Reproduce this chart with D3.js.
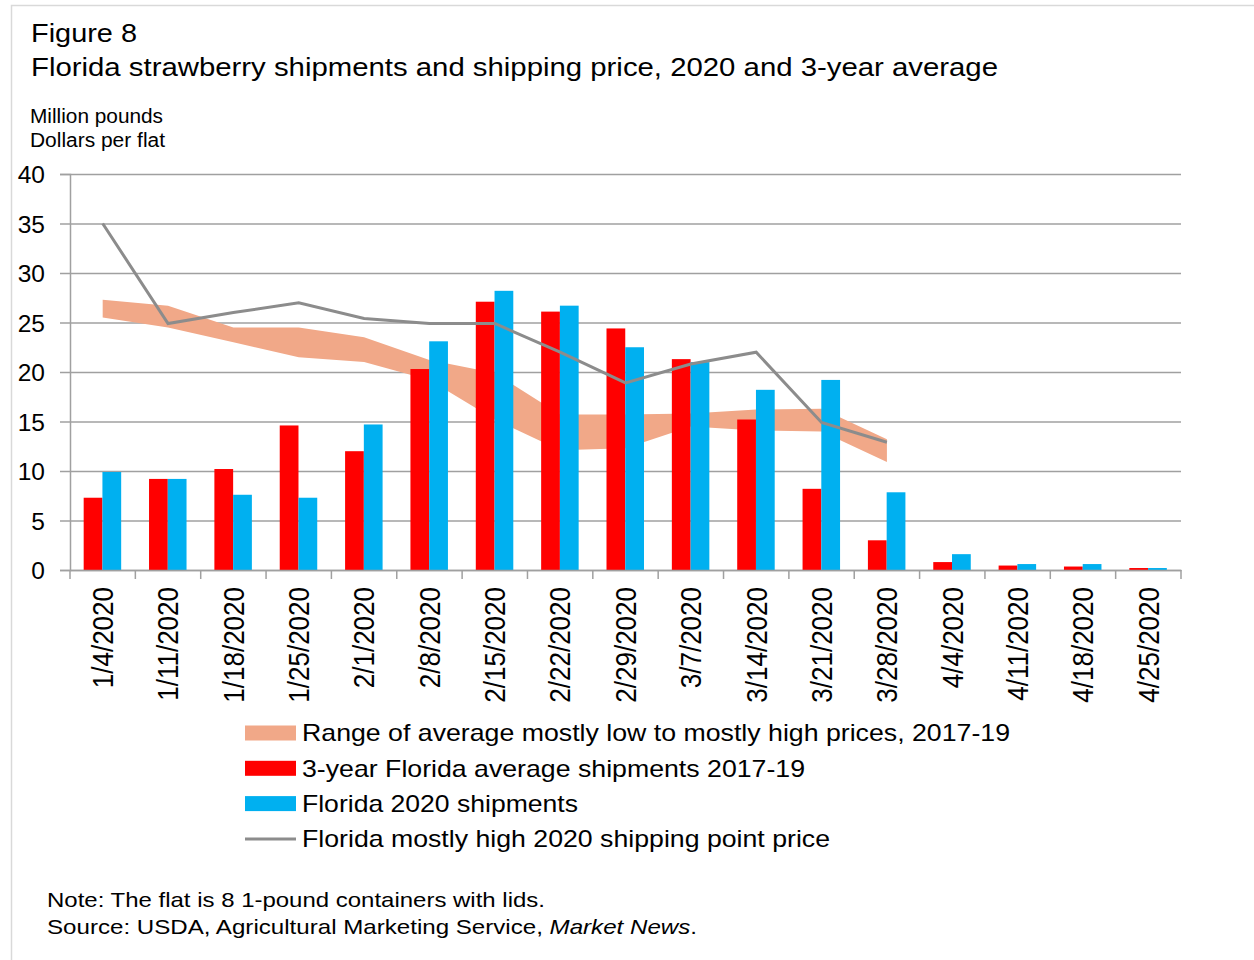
<!DOCTYPE html>
<html>
<head>
<meta charset="utf-8">
<script src="https://cdn.jsdelivr.net/npm/d3@7"></script>
<style>
  body { margin: 0; background: #fff; }
  svg { font-family: "Liberation Sans", Arial, sans-serif; }
</style>
</head>
<body>
<svg width="1254" height="960"></svg>
<script>
// weekly data
const categories = ['1/4/2020', '1/11/2020', '1/18/2020', '1/25/2020', '2/1/2020', '2/8/2020',
  '2/15/2020', '2/22/2020', '2/29/2020', '3/7/2020', '3/14/2020', '3/21/2020', '3/28/2020',
  '4/4/2020', '4/11/2020', '4/18/2020', '4/25/2020'];
const avgShipments = [7.3, 9.2, 10.2, 14.6, 12.0, 20.3, 27.1, 26.1, 24.4, 21.3, 15.2, 8.2, 3.0, 0.8, 0.45, 0.35, 0.2];
const shipments2020 = [9.9, 9.2, 7.6, 7.3, 14.7, 23.1, 28.2, 26.7, 22.5, 21.0, 18.2, 19.2, 7.85, 1.6, 0.6, 0.6, 0.2];
// prices only run through 3/28
const priceHigh2020 = [35, 24.9, 26, 27, 25.4, 24.9, 24.9, 22, 18.9, 20.8, 22, 14.9, 12.9];
const rangeLow = [25.5, 24.5, 23.0, 21.5, 21.0, 19.2, 15.2, 12.1, 12.3, 14.5, 14.1, 14.0, 10.9];
const rangeHigh = [27.3, 26.7, 24.5, 24.5, 23.5, 21.2, 19.9, 15.7, 15.7, 15.8, 16.2, 16.3, 13.2];
const yTicks = [0, 5, 10, 15, 20, 25, 30, 35, 40];

const legendItems = [
  { label: 'Range of average mostly low to mostly high prices, 2017-19', type: 'area', color: '#f1a888', len: 708 },
  { label: '3-year Florida average shipments 2017-19', type: 'bar', color: '#ff0000', len: 503 },
  { label: 'Florida 2020 shipments', type: 'bar', color: '#00b0f0', len: 276 },
  { label: 'Florida mostly high 2020 shipping point price', type: 'line', color: '#8c8c8c', len: 528 }
];

const svg = d3.select('svg');
const plotLeft = 70, plotRight = 1181, plotTop = 174, plotBottom = 570;

// stretched text, the source figure is a bit wider than the font
function label(x, y, size, str, len) {
  return svg.append('text').attr('x', x).attr('y', y).attr('font-size', size)
    .attr('textLength', len).attr('lengthAdjust', 'spacingAndGlyphs').text(str);
}

// light frame
svg.append('path')
  .attr('d', `M11.5,960 V5.5 H1254`)
  .attr('fill', 'none').attr('stroke', '#d9d9d9').attr('stroke-width', 1.5);

// titles
label(31, 42, 25, 'Figure 8', 106);
label(31, 76, 25, 'Florida strawberry shipments and shipping price, 2020 and 3-year average', 967);
label(30, 123, 19.5, 'Million  pounds', 133);
label(30, 147, 19.5, 'Dollars per flat', 135);

const x = d3.scaleBand().domain(categories).range([plotLeft, plotRight]).padding(0);
const bw = x.bandwidth();
const x1 = d3.scaleBand().domain(['avg', 'cur']).range([bw / 2 - 19, bw / 2 + 18.5]).padding(0);
const y = d3.scaleLinear().domain([0, 40]).range([plotBottom, plotTop]);
const cx = i => x(categories[i]) + bw / 2;

// gridlines + y axis
const yAxis = svg.append('g').attr('transform', `translate(${plotLeft},0)`)
  .call(d3.axisLeft(y).tickValues(yTicks).tickSize(10).tickFormat(d3.format('d')));
yAxis.select('.domain').attr('stroke', '#a0a0a0').attr('stroke-width', 1.5);
yAxis.selectAll('.tick line').attr('stroke', '#a0a0a0').attr('stroke-width', 1.5)
  .attr('x1', -10).attr('x2', plotRight - plotLeft);
yAxis.selectAll('.tick text').attr('font-size', 24.5).attr('fill', '#000')
  .attr('x', -25).attr('dy', '0.35em').attr('font-family', '"Liberation Sans", Arial, sans-serif');

// price range band
svg.append('path')
  .datum(rangeLow.map((d, i) => i))
  .attr('fill', '#f1a888')
  .attr('d', d3.area().x(i => cx(i)).y0(i => y(rangeLow[i])).y1(i => y(rangeHigh[i])));

// bars
const groups = svg.append('g').selectAll('g')
  .data(categories)
  .join('g')
  .attr('transform', d => `translate(${x(d)},0)`);
groups.append('rect')
  .attr('x', x1('avg')).attr('width', x1.bandwidth())
  .attr('y', (d, i) => y(avgShipments[i])).attr('height', (d, i) => y(0) - y(avgShipments[i]))
  .attr('fill', '#ff0000');
groups.append('rect')
  .attr('x', x1('cur')).attr('width', x1.bandwidth())
  .attr('y', (d, i) => y(shipments2020[i])).attr('height', (d, i) => y(0) - y(shipments2020[i]))
  .attr('fill', '#00b0f0');

// x axis
const xAxis = svg.append('g').attr('transform', `translate(0,${plotBottom})`)
  .call(d3.axisBottom(x).tickSize(0).tickSizeOuter(0));
xAxis.select('.domain').attr('stroke', '#a0a0a0').attr('stroke-width', 1.5);
xAxis.selectAll('.tick text')
  .attr('font-size', 26).attr('fill', '#000')
  .attr('font-family', '"Liberation Sans", Arial, sans-serif')
  .attr('text-anchor', 'end')
  .attr('transform', 'translate(0,17) rotate(-90) scale(1,1.1)')
  .attr('x', 0).attr('y', 0).attr('dy', '0.36em');
xAxis.append('g').selectAll('line')
  .data(d3.range(categories.length + 1))
  .join('line')
  .attr('x1', i => plotLeft + i * bw).attr('x2', i => plotLeft + i * bw)
  .attr('y1', 0).attr('y2', 9)
  .attr('stroke', '#a0a0a0').attr('stroke-width', 1.5);

// price line
svg.append('path')
  .datum(priceHigh2020)
  .attr('fill', 'none').attr('stroke', '#8c8c8c').attr('stroke-width', 3)
  .attr('d', d3.line().x((d, i) => cx(i)).y(d => y(d)));

// legend
const legend = svg.append('g').selectAll('g')
  .data(legendItems)
  .join('g')
  .attr('transform', (d, i) => `translate(245,${733 + i * 35.3})`);
legend.filter(d => d.type !== 'line').append('rect')
  .attr('x', 0).attr('y', -7.5).attr('width', 51).attr('height', 15)
  .attr('fill', d => d.color);
legend.filter(d => d.type === 'line').append('line')
  .attr('x1', 0).attr('x2', 51).attr('y1', 0).attr('y2', 0)
  .attr('stroke', d => d.color).attr('stroke-width', 3);
legend.append('text')
  .attr('x', 57).attr('dy', '0.35em').attr('font-size', 24)
  .attr('textLength', d => d.len).attr('lengthAdjust', 'spacingAndGlyphs')
  .text(d => d.label);

// notes
label(47, 907, 21, 'Note: The flat is 8 1-pound containers with lids.', 498);
const src = label(47, 934, 21, null, 650);
src.append('tspan').text('Source: USDA, Agricultural Marketing Service, ');
src.append('tspan').attr('font-style', 'italic').text('Market News');
src.append('tspan').text('.');
</script>
</body>
</html>
